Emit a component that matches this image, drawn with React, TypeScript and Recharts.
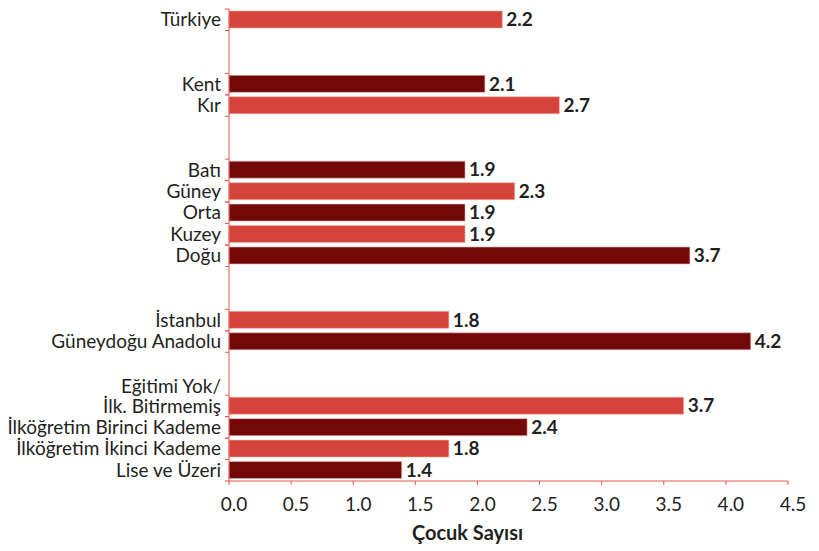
import { BarChart, Bar, XAxis, YAxis, Cell, LabelList } from "recharts";

// rows in draw order; empty strings are the blank spacer rows between groups
const categories = [
  "Türkiye",
  "",
  "",
  "Kent",
  "Kır",
  "",
  "",
  "Batı",
  "Güney",
  "Orta",
  "Kuzey",
  "Doğu",
  "",
  "",
  "İstanbul",
  "Güneydoğu Anadolu",
  "",
  "",
  "Eğitimi Yok/\nİlk. Bitirmemiş",
  "İlköğretim Birinci Kademe",
  "İlköğretim İkinci Kademe",
  "Lise ve Üzeri",
];

const values: (number | null)[] = [
  2.2, null, null, 2.06, 2.66, null, null, 1.9, 2.3, 1.9, 1.9, 3.71, null, null,
  1.77, 4.2, null, null, 3.66, 2.4, 1.77, 1.39,
];

// 0 = light red, 1 = dark red
const shades = [0, 0, 0, 1, 0, 0, 0, 1, 0, 1, 0, 1, 0, 0, 0, 1, 0, 0, 0, 1, 0, 1];

const xTicks = [0, 0.5, 1, 1.5, 2, 2.5, 3, 3.5, 4, 4.5];

const LIGHT = "#d5433a";
const DARK = "#720808";
const AXIS_RED = "#e3594b";
const INK = "#231f20";
const FONT = "Lato, 'Open Sans', sans-serif";

const W = 819;
const H = 551;
const TOP = 9;
const XAXIS_H = 70;
const YAXIS_W = 229;
const BAND = (H - TOP - XAXIS_H) / categories.length;

const data = categories.map((name, i) => ({
  id: String(i),
  name,
  value: values[i],
}));

function CategoryTick(props: any) {
  const { y, payload } = props;
  const name = categories[Number(payload.value)];
  if (!name) return null;
  const lines = name.split("\n");
  const half = BAND / 2;
  return (
    <g>
      <line x1={YAXIS_W - 4} x2={YAXIS_W} y1={y - half} y2={y - half} stroke={AXIS_RED} />
      <line x1={YAXIS_W - 4} x2={YAXIS_W} y1={y + half} y2={y + half} stroke={AXIS_RED} />
      <text
        x={YAXIS_W - 8}
        y={y}
        textAnchor="end"
        fontSize={19}
        fontFamily={FONT}
        fill={INK}
      >
        {lines.map((l, i) => (
          <tspan
            key={i}
            x={YAXIS_W - 8}
            dy={i === 0 ? `${0.35 - (lines.length - 1) * 1.05}em` : "1.05em"}
          >
            {l}
          </tspan>
        ))}
      </text>
    </g>
  );
}

function AxisTitle(props: any) {
  const { viewBox } = props;
  return (
    <text
      x={viewBox.x + viewBox.width / 2 - 41}
      y={540}
      textAnchor="middle"
      fontSize={20}
      fontWeight="bold"
      fontFamily={FONT}
      fill={INK}
    >
      Çocuk Sayısı
    </text>
  );
}

export default function App() {
  return (
    <div style={{ position: "absolute", left: 0, top: 0, width: W, height: H, background: "#fff" }}>
      <BarChart
        width={W}
        height={H}
        data={data}
        layout="vertical"
        margin={{ top: TOP, right: 31, left: 0, bottom: 0 }}
      >
        <XAxis
          type="number"
          domain={[0, 4.5]}
          ticks={xTicks}
          interval={0}
          height={XAXIS_H}
          tickFormatter={(v: number) => v.toFixed(1)}
          stroke={AXIS_RED}
          tickSize={4}
          tickMargin={13}
          tick={{ fill: INK, fontSize: 19, fontFamily: FONT, dx: 5 }}
          label={<AxisTitle />}
        />
        <YAxis
          type="category"
          dataKey="id"
          width={YAXIS_W}
          interval={0}
          stroke={AXIS_RED}
          tickLine={false}
          tick={<CategoryTick />}
        />
        <Bar
          dataKey="value"
          barSize={17}
          isAnimationActive={false}
          stroke="#efb3ab"
          strokeWidth={0.6}
        >
          {data.map((d, i) => (
            <Cell key={d.id} fill={shades[i] ? DARK : LIGHT} />
          ))}
          <LabelList
            dataKey="value"
            position="right"
            offset={4}
            formatter={(v: any) => (v == null ? "" : Number(v).toFixed(1))}
            style={{ fontFamily: FONT, fontSize: 19, fontWeight: "bold", fill: INK }}
          />
        </Bar>
      </BarChart>
    </div>
  );
}
